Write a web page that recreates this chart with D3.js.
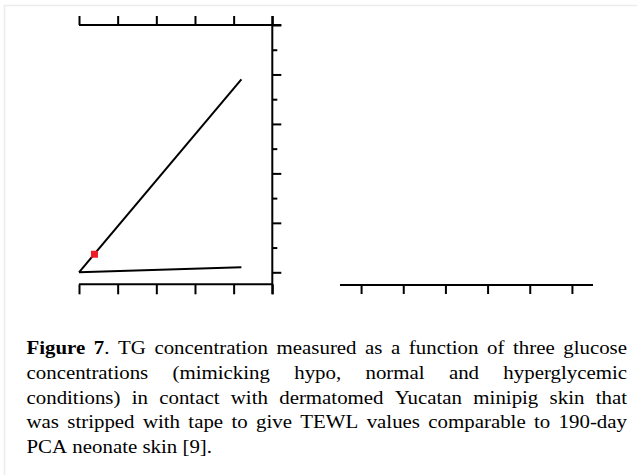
<!DOCTYPE html>
<html>
<head>
<meta charset="utf-8">
<script src="https://cdn.jsdelivr.net/npm/d3@7"></script>
<style>
  body { margin: 0; background: #fff; }
  svg { display: block; }
  .caption text { font-family: "Liberation Serif", "Times New Roman", Times, "DejaVu Serif", serif; font-size: 18px; }
</style>
</head>
<body>
<div id="chart"></div>
<script>
// data (axis labels are missing in the original)
const glucoseLevels = [0, 4.2];
const upperSeries = [0, 7.8];
const lowerSeries = [0, 0.2];
const markedPoint = [0.4, 0.73];
const xTicks = [0, 1, 2, 3, 4, 5];
const yTicks = [0, 1, 2, 3, 4, 5, 6, 7, 8, 9, 10];
const rightPanelTicks = [0.5, 1.5, 2.5, 3.5, 4.5, 5.5];

const captionLines = [
  "Figure 7. TG concentration measured as a function of three glucose",
  "concentrations (mimicking hypo, normal and hyperglycemic",
  "conditions) in contact with dermatomed Yucatan minipig skin that",
  "was stripped with tape to give TEWL values comparable to 190-day",
  "PCA neonate skin [9]."
];

const width = 637;
const height = 475;

const svg = d3.select("#chart")
  .append("svg")
  .attr("width", width)
  .attr("height", height);

// faint page frame
svg.append("rect")
  .attr("x", 4.5).attr("y", 5.5)
  .attr("width", 640).attr("height", 480)
  .attr("fill", "none")
  .attr("stroke", "#ececec")
  .attr("stroke-width", 1.5);

// left panel scales
const x = d3.scaleLinear().domain([0, 5]).range([79, 272.3]);
const y = d3.scaleLinear().domain([0, 10]).range([272.3, 25]);
const bottomY = 284.3;

const panel = svg.append("g");

// top axis, ticks pointing up
const topAxis = panel.append("g")
  .attr("transform", `translate(0,${y(10)})`)
  .call(d3.axisTop(x).tickValues(xTicks).tickSize(9).tickFormat(""));
topAxis.select(".domain").remove();
topAxis.append("line")
  .attr("x1", x(0)).attr("x2", x(5) + 9);

// bottom axis, ticks pointing down
const bottomAxis = panel.append("g")
  .attr("transform", `translate(0,${bottomY})`)
  .call(d3.axisBottom(x).tickValues(xTicks).tickSize(10).tickFormat(""));
bottomAxis.select(".domain").remove();
bottomAxis.append("line")
  .attr("x1", x(0)).attr("x2", x(5));

// right axis, major and minor ticks
const rightAxis = panel.append("g")
  .attr("transform", `translate(${x(5)},0)`)
  .call(d3.axisRight(y).tickValues(yTicks).tickSize(9).tickFormat(""));
rightAxis.select(".domain").remove();
rightAxis.selectAll(".tick line")
  .attr("x2", d => d % 2 === 0 ? 9 : 5);
rightAxis.append("line")
  .attr("y1", y(10) - 9).attr("y2", bottomY + 10);

panel.selectAll("line")
  .attr("stroke", "#000")
  .attr("stroke-width", 2);

const line = d3.line()
  .x((d, i) => x(glucoseLevels[i]))
  .y(d => y(d));

[upperSeries, lowerSeries].forEach(s => {
  panel.append("path")
    .datum(s)
    .attr("d", line)
    .attr("fill", "none")
    .attr("stroke", "#000")
    .attr("stroke-width", 2);
});

panel.append("rect")
  .attr("x", x(markedPoint[0]) - 3.5)
  .attr("y", y(markedPoint[1]) - 3.5)
  .attr("width", 7)
  .attr("height", 7)
  .attr("fill", "#ee1c24");

// right panel: only a bottom axis survives
const x2 = d3.scaleLinear().domain([0, 6]).range([340, 593]);
const rightPanel = svg.append("g")
  .attr("transform", "translate(0,285)")
  .call(d3.axisBottom(x2).tickValues(rightPanelTicks).tickSize(9).tickSizeOuter(0).tickFormat(""));
rightPanel.select(".domain").remove();
rightPanel.append("line").attr("x1", x2(0)).attr("x2", x2(6));
rightPanel.selectAll("line")
  .attr("stroke", "#000")
  .attr("stroke-width", 2);

// caption, justified word by word, glyphs stretched horizontally like the scan
const sx = 1.16;
const textLeft = 26.5;
const textRight = 627;
const caption = svg.append("g")
  .attr("class", "caption")
  .attr("transform", `scale(${sx},1)`)
  .attr("fill", "#000");

captionLines.forEach((txt, li) => {
  const baseY = 354.5 + li * 24.6;
  const words = txt.split(" ");
  const nodes = words.map(w => {
    const t = caption.append("text").attr("y", baseY);
    if (w === "Figure") {
      t.append("tspan").attr("font-weight", "bold").text(w);
    } else if (w === "7.") {
      t.append("tspan").attr("font-weight", "bold").text("7");
      t.append("tspan").text(".");
    } else {
      t.text(w);
    }
    return t;
  });
  const widths = nodes.map(n => n.node().getComputedTextLength());
  const total = d3.sum(widths);
  const avail = (textRight - textLeft) / sx;
  const last = li === captionLines.length - 1;
  const gap = last ? 18 * 0.25 : (avail - total) / (words.length - 1);
  let cx = textLeft / sx;
  nodes.forEach((n, i) => {
    n.attr("x", cx);
    cx += widths[i] + gap;
  });
});
</script>
</body>
</html>
